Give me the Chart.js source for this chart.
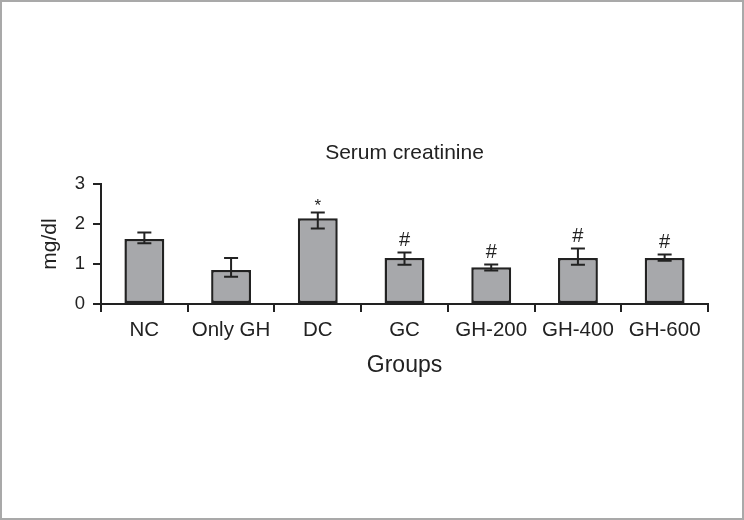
<!DOCTYPE html>
<html>
<head>
<meta charset="utf-8">
<script src="https://cdn.jsdelivr.net/npm/chart.js@4"></script>
<style>
  html, body { margin: 0; padding: 0; background: #fff; }
  #wrap { position: relative; width: 744px; height: 520px; }
  #frame { position: absolute; left: 0; top: 0; width: 744px; height: 520px;
           box-sizing: border-box; border: 2px solid #a9a9a9; pointer-events: none; }
</style>
</head>
<body>
<div id="wrap">
  <canvas id="chart" width="744" height="520"></canvas>
  <div id="frame"></div>
</div>
<script>
/* Serum creatinine by group, mean with error range (mg/dl) */
var groups  = ['NC', 'Only GH', 'DC', 'GC', 'GH-200', 'GH-400', 'GH-600'];
var means   = [1.63, 0.85, 2.15, 1.15, 0.92, 1.15, 1.15];
var errHigh = [1.79, 1.15, 2.29, 1.29, 0.99, 1.39, 1.24];
var errLow  = [1.52, 0.68, 1.89, 0.98, 0.84, 0.98, 1.08];
var marks   = ['', '', '*', '#', '#', '#', '#'];
var yTicks  = [0, 1, 2, 3];

var FONT = '"Liberation Sans", Arial, sans-serif';
var INK = '#222';

/* error bars + significance marks, placed through the y scale */
var errorBars = {
  id: 'errorBars',
  afterDatasetsDraw: function (chart) {
    var ctx = chart.ctx;
    var y = chart.scales.y;
    var meta = chart.getDatasetMeta(0);
    ctx.save();
    ctx.strokeStyle = INK;
    ctx.lineWidth = 2;
    meta.data.forEach(function (bar, i) {
      var x = bar.x;
      var hi = y.getPixelForValue(errHigh[i]);
      var lo = y.getPixelForValue(errLow[i]);
      ctx.beginPath();
      ctx.moveTo(x, hi); ctx.lineTo(x, lo);
      ctx.moveTo(x - 7, hi); ctx.lineTo(x + 7, hi);
      ctx.moveTo(x - 7, lo); ctx.lineTo(x + 7, lo);
      ctx.stroke();
      if (marks[i]) {
        ctx.fillStyle = INK;
        ctx.textAlign = 'center';
        ctx.textBaseline = 'alphabetic';
        ctx.font = (marks[i] === '*' ? '17px ' : '20px ') + FONT;
        ctx.fillText(marks[i], x, hi - (marks[i] === '*' ? 2 : 6));
      }
    });
    ctx.restore();
  }
};

new Chart(document.getElementById('chart'), {
  type: 'bar',
  data: {
    labels: groups,
    datasets: [{
      data: means,
      backgroundColor: '#a7a8ab',
      borderColor: INK,
      borderWidth: 2.5,
      borderSkipped: false,
      categoryPercentage: 1,
      barPercentage: 0.46,
    }],
  },
  options: {
    responsive: false,
    animation: false,
    layout: { padding: { left: 0, right: 36, top: 0, bottom: 0 } },
    plugins: {
      legend: { display: false },
      tooltip: { enabled: false },
      title: {
        display: true,
        fullSize: false,
        text: 'Serum creatinine',
        color: INK,
        font: { family: FONT, size: 21, weight: 'normal' },
        padding: { top: 141, bottom: 18 },
      },
    },
    scales: {
      x: {
        offset: true,
        grid: { offset: true, drawOnChartArea: false, color: INK, lineWidth: 2, tickLength: 8 },
        border: { color: INK, width: 2 },
        ticks: { color: INK, padding: 6, maxRotation: 0, font: { family: FONT, size: 20.5 } },
        title: { display: true, text: 'Groups', color: INK,
                 font: { family: FONT, size: 23 }, padding: { top: 0, bottom: 141 } },
        afterFit: function (s) { s.height = 216; },
      },
      y: {
        min: 0, max: 3,
        afterBuildTicks: function (s) { s.ticks = yTicks.map(function (v) { return { value: v }; }); },
        grid: { drawOnChartArea: false, color: INK, lineWidth: 2, tickLength: 8 },
        border: { color: INK, width: 2 },
        ticks: { color: INK, padding: 8, font: { family: FONT, size: 18.5 } },
        title: { display: true, text: 'mg/dl', color: INK,
                 font: { family: FONT, size: 21 }, padding: { top: 38, bottom: 0 } },
        afterFit: function (s) { s.width = 101; },
      },
    },
  },
  plugins: [errorBars],
});
</script>
</body>
</html>
